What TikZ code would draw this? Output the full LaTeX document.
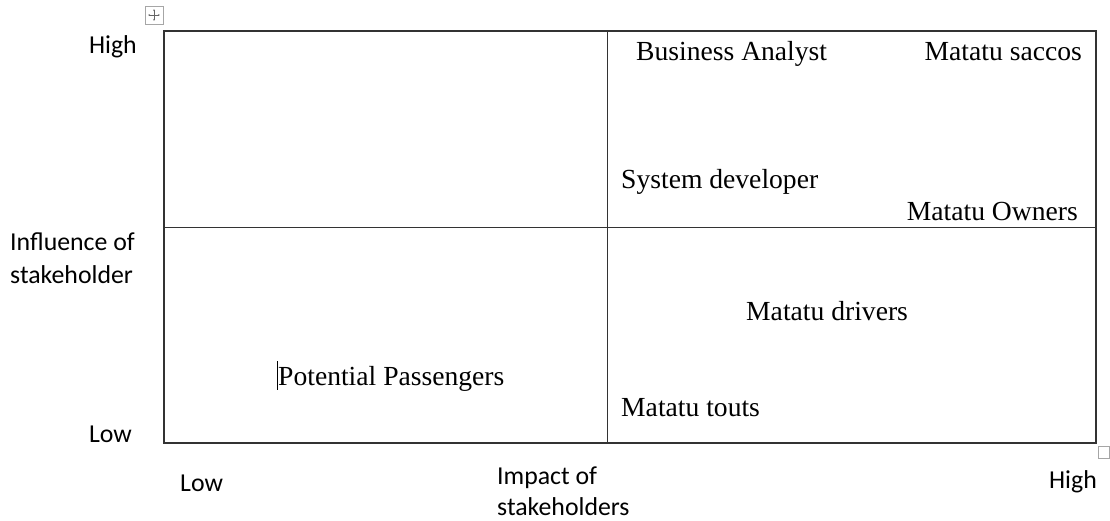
\documentclass[tikz,border=0pt]{standalone}
\usepackage{fontspec}
\setmainfont{Liberation Serif}
\newfontfamily\calibri{Carlito}
\usetikzlibrary{arrows.meta}

\begin{document}
\begin{tikzpicture}[x=1pt,y=-1pt,
		gridline/.style={line width=1.4pt, color=black!80},
		entry/.style={inner sep=0pt, font=\fontsize{27.6}{30}\selectfont},
		axislbl/.style={inner sep=0pt, font=\calibri\fontsize{25.8}{28}\selectfont},
		handle/.style={line width=0.8pt, color=black!35}]
			%%%%% START %%%%%
			\useasboundingbox (0, 0) rectangle (1110, 520);
			
			\draw[gridline] (164, 31) rectangle (1096, 443);
			\draw[gridline] (607.5, 31) -- (607.5, 443);
			\draw[gridline] (164, 227.5) -- (1096, 227.5);
			
			% table handles
			\draw[handle] (145, 6) rectangle (163, 24);
			\draw[black!60, line width=0.7pt, -{Stealth[length=2pt]}] (154, 15) -- (154, 9);
			\draw[black!60, line width=0.7pt, -{Stealth[length=2pt]}] (154, 15) -- (154, 21);
			\draw[black!60, line width=0.7pt, -{Stealth[length=2pt]}] (154, 15) -- (148, 15);
			\draw[black!60, line width=0.7pt, -{Stealth[length=2pt]}] (154, 15) -- (160, 15);
			\draw[handle] (1098, 446) rectangle (1109, 458);
			
			% stakeholders
			\node[entry, anchor=base west] (analyst) at (636, 60) {Business Analyst};
			\node[entry, anchor=base east] (saccos) at (1082, 60) {Matatu saccos};
			\node[entry, anchor=base west] (developer) at (621, 188) {System developer};
			\node[entry, anchor=base east] (owners) at (1078, 220) {Matatu Owners};
			\node[entry, anchor=base west] (drivers) at (746, 320) {Matatu drivers};
			\node[entry, anchor=base west] (passengers) at (278, 385) {Potential Passengers};
			\node[entry, anchor=base west] (touts) at (621, 416) {Matatu touts};
			\draw[line width=0.6pt] (277, 361) -- (277, 390);
			
			% axes
			\node[axislbl, anchor=base east] (yhigh) at (137, 53) {High};
			\node[axislbl, anchor=base west] (yname) at (10, 250) {Influence of};
			\node[axislbl, anchor=base west] (yname2) at (10, 283) {stakeholder};
			\node[axislbl, anchor=base east] (ylow) at (132, 442) {Low};
			\node[axislbl, anchor=base west] (xlow) at (180, 491) {Low};
			\node[axislbl, anchor=base west] (xname) at (497, 484) {Impact of};
			\node[axislbl, anchor=base west] (xname2) at (497, 515) {stakeholders};
			\node[axislbl, anchor=base east] (xhigh) at (1097, 488) {High};
			
			%%%%% END %%%%%
\end{tikzpicture}
\end{document}
